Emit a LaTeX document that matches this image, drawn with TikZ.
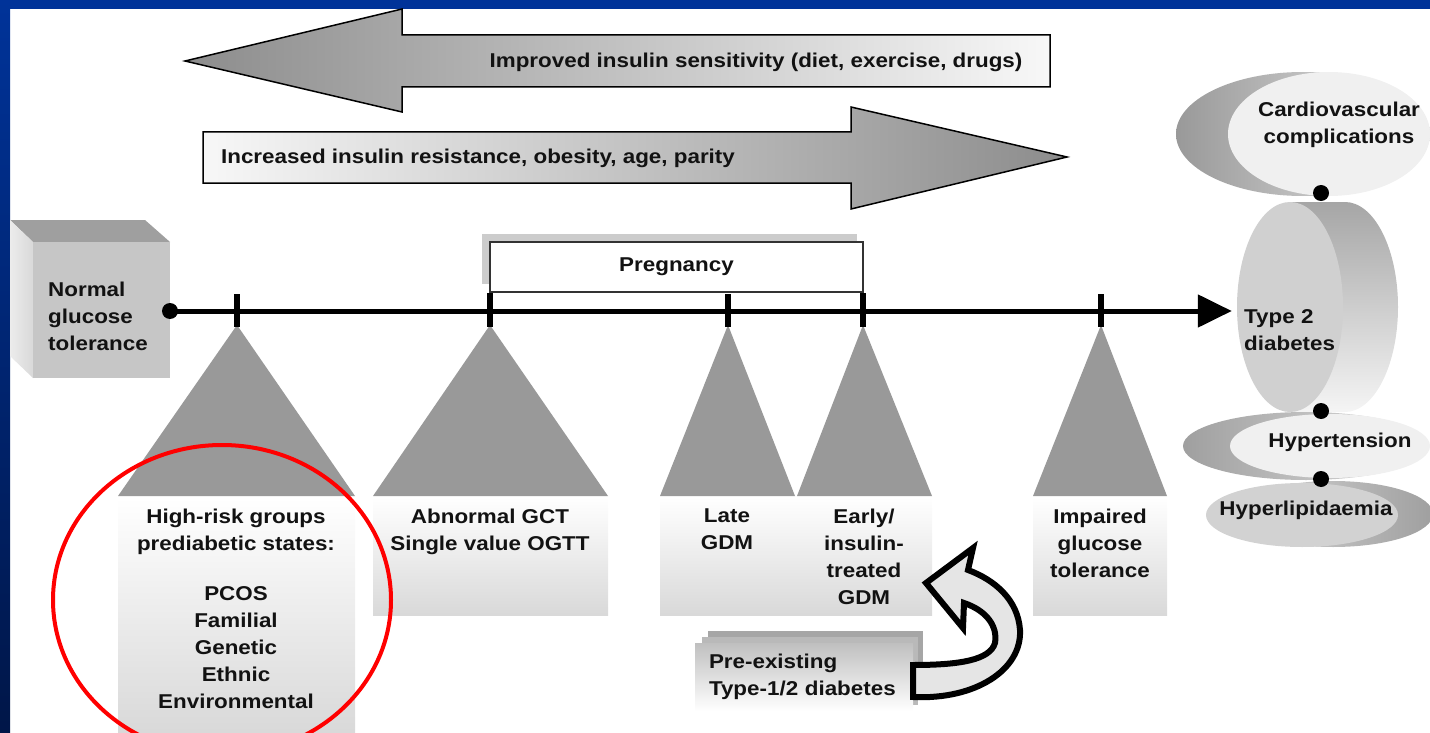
\documentclass[tikz,border=0pt]{standalone}
\usepackage{fontspec}
\setmainfont{Liberation Sans}[FakeStretch=1.12]
\usetikzlibrary{arrows.meta,shapes.geometric,calc}

\definecolor{frameblue}{RGB}{0,51,153}
\definecolor{framedark}{RGB}{0,22,72}
\definecolor{trigray}{RGB}{153,153,153}
\definecolor{txt}{RGB}{18,18,18}

\tikzset{
  lbl/.style={inner sep=0pt, text=txt, font=\fontsize{20}{27}\selectfont\bfseries},
  tri/.style={fill=trigray},
  body/.style={top color=white, bottom color=gray!30},
  tick/.style={line width=6pt},
  bigarrow/.style={draw=black, line width=1.5pt, line join=miter},
  dot/.style={circle, fill=black, inner sep=0pt, minimum size=16pt},
}

\begin{document}
\begin{tikzpicture}[x=1pt,y=-1pt]
\useasboundingbox (0,0) rectangle (1430,733);
\clip (0,0) rectangle (1430,733);

% blue frame
\fill[frameblue] (0,0) rectangle (1430,9);
\shade[top color=frameblue, bottom color=framedark] (0,0) rectangle (10,733);

% the two big arrows
\shadedraw[bigarrow, left color=gray!90, right color=white!97!black] (185,61) -- (402,9) -- (402,35) -- (1050,35) -- (1050,87) -- (402,87) -- (402,112) -- cycle;
\node[lbl] (improved) at (756,62) {Improved insulin sensitivity (diet, exercise, drugs)};
\shadedraw[bigarrow, left color=white!97!black, right color=gray!90] (203,132) -- (851,132) -- (851,107) -- (1067,157) -- (851,209) -- (851,183) -- (203,183) -- cycle;
\node[lbl] (increased) at (478,158) {Increased insulin resistance, obesity, age, parity};

% normal glucose tolerance cube
\fill[gray!75] (10,220) -- (145,220) -- (170,242) -- (33,242) -- cycle;
\shade[left color=gray!15, right color=gray!30] (10,220) -- (33,242) -- (33,378) -- (10,356) -- cycle;
\fill[gray!45] (33,242) rectangle (170,378);
\node[lbl, anchor=west, align=left] (ngt) at (48,316) {Normal\\glucose\\tolerance};

% pregnancy
\fill[gray!40] (482,234) rectangle (857,284);
\node[lbl, draw=black!80, line width=2pt, fill=white, minimum width=373pt, minimum height=50pt] (preg) at (676.5,267) {Pregnancy};

% triangles and their boxes
\fill[tri] (237,325) -- (355,496) -- (118,496) -- cycle;
\fill[tri] (490,325) -- (608,496) -- (373,496) -- cycle;
\fill[tri] (728,325) -- (795,496) -- (660,496) -- cycle;
\fill[tri] (863,325) -- (932,496) -- (797,496) -- cycle;
\fill[tri] (1101,325) -- (1167,496) -- (1033,496) -- cycle;

\shade[body] (118,497) rectangle (355,733);
\shade[body] (373,497) rectangle (608,615);
\shade[body] (660,497) rectangle (932,615);
\shade[body] (1033,497) rectangle (1167,615);

\node[lbl, anchor=north, align=center] (risk) at (236,509) {High-risk groups\\prediabetic states:\\[23pt]PCOS\\Familial\\Genetic\\Ethnic\\Environmental};
\node[lbl, anchor=north, align=center] (gct) at (490,509) {Abnormal GCT\\Single value OGTT};
\node[lbl, anchor=north, align=center] (late) at (727,509) {Late\\GDM};
\node[lbl, anchor=north, align=center] (early) at (864,509) {Early/\\insulin-\\treated\\GDM};
\node[lbl, anchor=north, align=center] (igt) at (1100,509) {Impaired\\glucose\\tolerance};

% pre-existing diabetes
\fill[gray!70] (708,631) rectangle (923,700);
\fill[gray!55] (702,637) rectangle (918,705);
\node[lbl, top color=gray!50, bottom color=white, minimum width=218pt, minimum height=68pt, text width=190pt, align=left] (pre) at (804,677) {Pre-existing\\Type-1/2 diabetes};
\filldraw[fill=gray!20, draw=black, line width=6pt, line join=miter]
  ($(pre.east)+(0,20)$) .. controls (975,700) and (1022,670) .. (1020,630)
  .. controls (1018,600) and (995,580) .. (968,570)
  -- (973,548) -- (926,583) -- (963,628) -- (964,603)
  .. controls (985,610) and (998,625) .. (995,643)
  .. controls (990,660) and (960,665) .. ($(pre.east)+(0,-12)$) -- cycle;

% right side: complications
\shade[left color=gray!80, right color=gray!20] (1303,134) ellipse [x radius=127, y radius=62];
\node[ellipse, fill=gray!12, minimum width=202pt, minimum height=124pt, inner sep=0pt] (cardio) at (1329,134) {};
\node[lbl, align=center] (cardiotext) at (1339,125) {Cardiovascular\\complications};

\shade[top color=gray!70, bottom color=gray!8] (1290,202) -- (1345,202) arc[start angle=-90, end angle=90, x radius=53, y radius=105] -- (1290,412) -- cycle;
\node[ellipse, fill=gray!37, minimum width=106pt, minimum height=210pt, inner sep=0pt] (t2d) at (1290,307) {};
\node[lbl, anchor=west, align=left] (t2dtext) at (1244,330) {Type 2\\diabetes};

\shade[left color=gray!75, right color=gray!25] (1306,446) ellipse [x radius=123, y radius=34];
\node[ellipse, fill=gray!12, minimum width=200pt, minimum height=64pt, inner sep=0pt] (hyper) at (1330,446) {};
\node[lbl] (hypertext) at (1340,442) {Hypertension};

\shade[left color=gray!30, right color=gray!75] (1333,514) ellipse [x radius=100, y radius=33];
\node[ellipse, fill=gray!35, minimum width=192pt, minimum height=64pt, inner sep=0pt] (lipid) at (1302,515) {};
\node[lbl] (lipidtext) at (1306,510) {Hyperlipidaemia};

\node[dot] (d1) at (1321,193) {};
\node[dot] (d2) at (1321,411) {};
\node[dot] (d3) at (1321,479) {};

% time line
\node[dot] (start) at (170,311) {};
\draw[line width=5pt, -{Triangle[length=34pt,width=32pt]}, shorten >=5pt] (start.center) -- (start -| t2d.west);
\draw[tick] (237,294) -- (237,327);
\draw[tick] (490,293) -- (490,327);
\draw[tick] (728,294) -- (728,327);
\draw[tick] (863,293) -- (863,327);
\draw[tick] (1101,294) -- (1101,327);

% red circle
\draw[red, line width=4pt] (222,600) ellipse [x radius=169, y radius=155];
\end{tikzpicture}
\end{document}
